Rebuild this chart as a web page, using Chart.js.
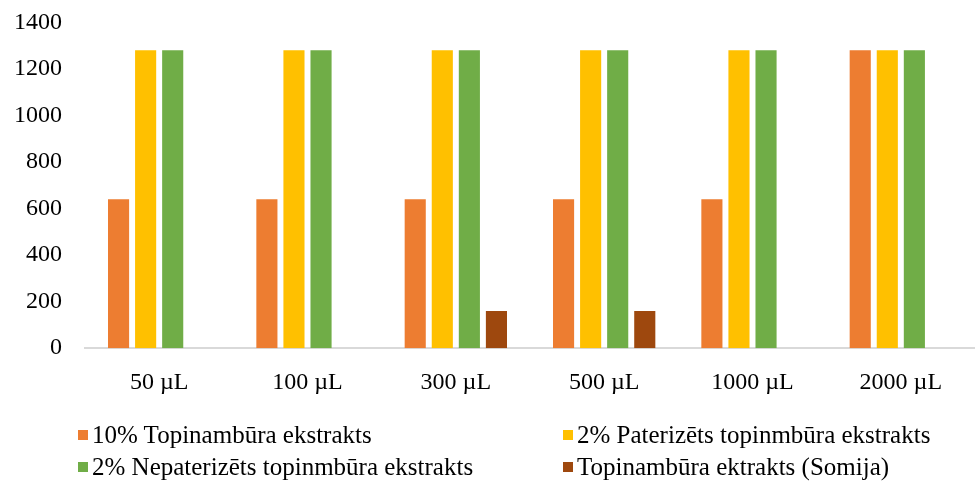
<!DOCTYPE html>
<html>
<head>
<meta charset="utf-8">
<script src="https://cdn.jsdelivr.net/npm/chart.js@4/dist/chart.umd.min.js"></script>
<style>
  body { margin:0; background:#fff; font-family:"Liberation Serif","Times New Roman",serif; overflow:hidden; }
  #wrap { position:relative; width:975px; height:494px; overflow:hidden; }
  #box { position:absolute; left:0; top:-15px; width:975px; height:446px; }
  #legend { position:absolute; left:78px; top:423px; display:grid; grid-template-columns:485px auto; row-gap:9px; font-size:25px; color:#000; }
  .item { display:flex; align-items:center; height:23px; white-space:nowrap; }
  .sw { width:10px; height:10px; margin-right:4px; }
</style>
</head>
<body>
<div id="wrap">
  <div id="box"><canvas id="myChart"></canvas></div>
  <div id="legend"></div>
</div>
<script>
// kategorijas un vērtības
const labels = ['50 µL', '100 µL', '300 µL', '500 µL', '1000 µL', '2000 µL'];
const seriesNames = ['10% Topinambūra ekstrakts', '2% Paterizēts topinmbūra ekstrakts', '2% Nepaterizēts topinmbūra ekstrakts', 'Topinambūra ektrakts (Somija)'];
const topin10 = [640, 640, 640, 640, 640, 1280];
const pater2 = [1280, 1280, 1280, 1280, 1280, 1280];
const nepater2 = [1280, 1280, 1280, 1280, 1280, 1280];
const somija = [0, 0, 160, 160, 0, 0];
const yTicks = [0, 200, 400, 600, 800, 1000, 1200, 1400];

const colors = ['#ED7D31', '#FFC000', '#70AD47', '#9E480E'];
const allData = [topin10, pater2, nepater2, somija];

const ctx = document.getElementById('myChart').getContext('2d');
const myChart = new Chart(ctx, {
    type: 'bar',
    data: {
        labels: labels,
        datasets: allData.map((d, i) => ({
            label: seriesNames[i],
            data: d,
            backgroundColor: colors[i],
            categoryPercentage: 0.73,
            barPercentage: 0.78
        }))
    },
    options: {
        responsive: true,
        maintainAspectRatio: false,
        animation: false,
        layout: { padding: { top: 0, bottom: 14, left: 0, right: 0 } },
        plugins: {
            legend: { display: false },
            tooltip: { enabled: false }
        },
        scales: {
            x: {
                grid: { display: false, drawTicks: false },
                border: { color: '#d9d9d9', width: 2 },
                ticks: { color: '#000', padding: 20, font: { family: 'Liberation Serif', size: 24 } }
            },
            y: {
                min: 0,
                max: 1400,
                grid: { display: false, drawTicks: false },
                border: { display: false },
                afterBuildTicks: function(scale) {
                    scale.ticks = yTicks.map(v => ({ value: v }));
                },
                afterFit: function(scale) { scale.width = 85; },
                ticks: {
                    color: '#000', padding: 23,
                    font: { family: 'Liberation Serif', size: 24 },
                    callback: v => String(v)
                }
            }
        }
    }
});

// leģenda
const legend = document.getElementById('legend');
seriesNames.forEach((n, i) => {
    const it = document.createElement('div');
    it.className = 'item';
    it.innerHTML = `<span class="sw" style="background:${colors[i]}"></span><span>${n}</span>`;
    legend.appendChild(it);
});
</script>
</body>
</html>
